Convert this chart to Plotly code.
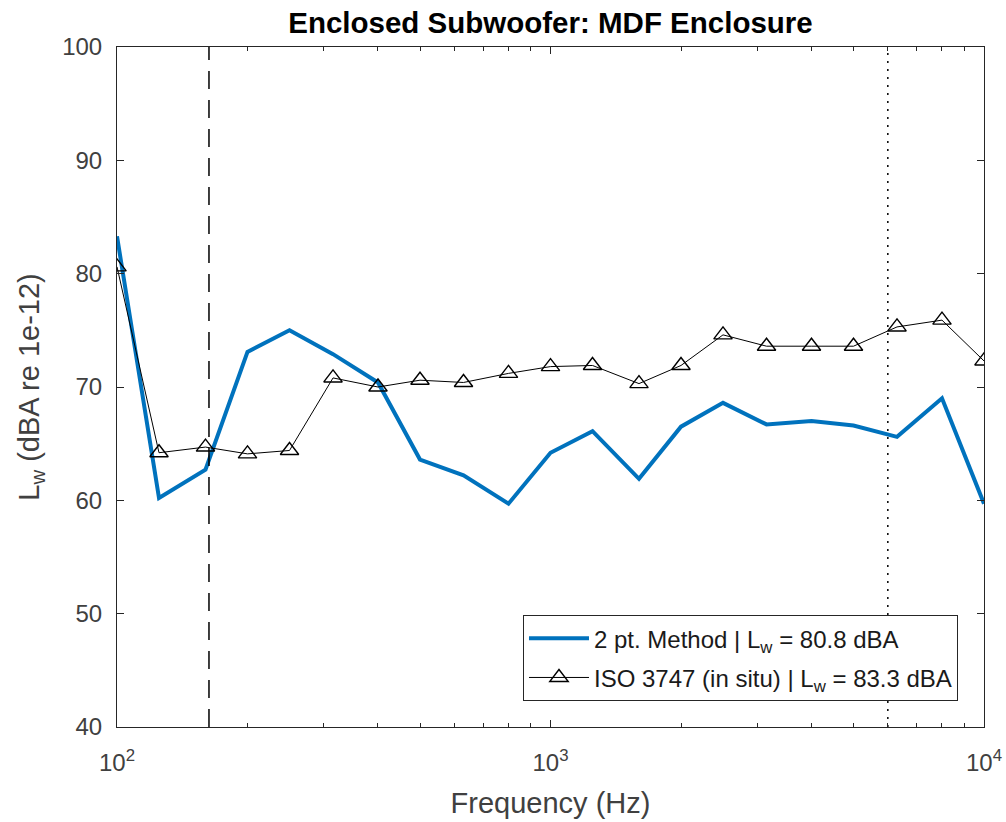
import plotly.graph_objects as go

freq = [100, 125, 160, 200, 250, 315, 400, 500, 630, 800, 1000, 1250, 1600,
        2000, 2500, 3150, 4000, 5000, 6300, 8000, 10000]
lw_2pt = [83.3, 60.2, 62.7, 73.1, 75.0, 72.9, 70.4, 63.6, 62.2, 59.7, 64.2, 66.1,
          61.9, 66.5, 68.6, 66.7, 67.0, 66.6, 65.6, 69.0, 59.7]
lw_iso = [80.6, 64.2, 64.7, 64.1, 64.4, 70.8, 70.0, 70.6, 70.4, 71.2, 71.8, 71.9,
          70.3, 71.9, 74.6, 73.6, 73.6, 73.6, 75.3, 75.9, 72.3]
dashed_freq = 163
dotted_freq = 6000
y_limits = [40, 100]
y_ticks = [40, 50, 60, 70, 80, 90, 100]
x_major = [100, 1000, 10000]
x_major_text = ["10<sup>2</sup>", "10<sup>3</sup>", "10<sup>4</sup>"]
x_minor = [200, 300, 400, 500, 600, 700, 800, 900,
           2000, 3000, 4000, 5000, 6000, 7000, 8000, 9000]

FONT = "Liberation Sans, Arial, Helvetica, sans-serif"
AX = "#262626"

fig = go.Figure()
fig.add_trace(go.Scatter(
    x=freq, y=lw_2pt, mode="lines",
    line=dict(color="#0072BD", width=4),
    name="2 pt. Method | L<sub>w</sub> = 80.8 dBA", legendgroup="a"))
fig.add_trace(go.Scatter(
    x=freq, y=lw_iso, mode="lines+markers",
    line=dict(color="#000000", width=1),
    marker=dict(symbol="triangle-up-open", size=16, color="#000000",
                line=dict(width=1.4, color="#000000")),
    name="ISO 3747 (in situ) | L<sub>w</sub> = 83.3 dBA", legendgroup="b"))
fig.add_trace(go.Scatter(
    x=[dashed_freq, dashed_freq], y=y_limits, mode="lines",
    line=dict(color="#000000", width=1.5, dash="18px,11px"), showlegend=False))
fig.add_trace(go.Scatter(
    x=[dotted_freq, dotted_freq], y=y_limits, mode="lines",
    line=dict(color="#000000", width=1.5, dash="2px,6px"), showlegend=False))

fig.update_layout(
    width=1006, height=822,
    margin=dict(l=117, r=22, t=47, b=95, autoexpand=False),
    paper_bgcolor="white", plot_bgcolor="white",
    font=dict(family=FONT, size=24, color="#404040"),
    title=dict(text="Enclosed Subwoofer: MDF Enclosure",
               font=dict(family=FONT, size=29.5, color="#000000", weight="bold"),
               x=0.5, xref="paper", xanchor="center",
               y=1 - 23 / 822, yref="container", yanchor="middle"),
    xaxis=dict(type="log", range=[2, 4], tickmode="array", tickvals=x_major,
               ticktext=x_major_text, ticks="inside", ticklen=7, tickwidth=1,
               tickcolor=AX, showline=True, linecolor=AX, linewidth=1,
               mirror="ticks", showgrid=False, zeroline=False,
               tickfont=dict(size=24, color="#404040"), ticklabelstandoff=14,
               minor=dict(tickvals=x_minor, ticks="inside", ticklen=4,
                          tickwidth=1, tickcolor=AX, showgrid=False),
               title=dict(text="Frequency (Hz)", standoff=17,
                          font=dict(size=29, color="#404040"))),
    yaxis=dict(range=y_limits, tickmode="array", tickvals=y_ticks,
               ticks="inside", ticklen=7, tickwidth=1, tickcolor=AX,
               showline=True, linecolor=AX, linewidth=1, mirror="ticks",
               showgrid=False, zeroline=False,
               tickfont=dict(size=24, color="#404040"), ticklabelstandoff=9,
               title=dict(text="L<sub>w</sub> (dBA re 1e-12)", standoff=14,
                          font=dict(size=29, color="#404040"))),
    legend=dict(x=0.970, y=0.038, xanchor="right", yanchor="bottom",
                bgcolor="white", bordercolor=AX, borderwidth=1,
                font=dict(size=24, color="#1a1a1a"), itemwidth=60,
                tracegroupgap=5, traceorder="grouped"),
)

fig.write_html("out.html")
